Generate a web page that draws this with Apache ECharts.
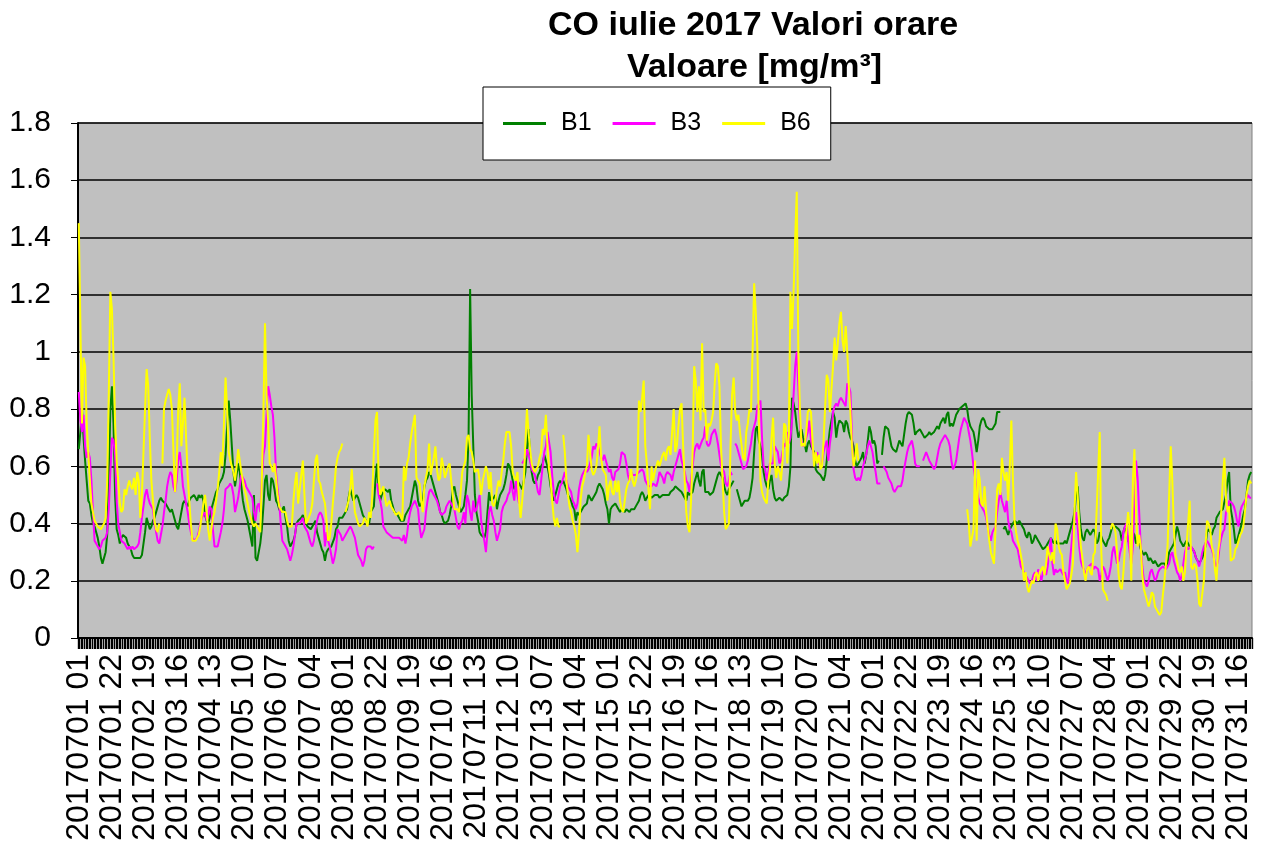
<!DOCTYPE html>
<html>
<head>
<meta charset="utf-8">
<title>CO iulie 2017 Valori orare</title>
<script src="https://cdn.jsdelivr.net/npm/echarts@6/dist/echarts.min.js"></script>
<style>
  html, body { margin: 0; padding: 0; background: #fff; }
  #chart { width: 1266px; height: 845px; }
</style>
</head>
<body>
<div id="chart"></div>
<script>
// hourly CO values, July 2017, one line per day (hours 01..24)
const days = ['01','02','03','04','05','06','07','08','09','10','11','12','13','14','15','16',
  '17','18','19','20','21','22','23','24','25','26','27','28','29','30','31'];
const hours = ['01','02','03','04','05','06','07','08','09','10','11','12',
  '13','14','15','16','17','18','19','20','21','22','23','24'];

const b1 = [
.66,.72,.80,.70,.62,.55,.48,.47,.43,.40,.39,.37,.35,.32,.28,.26,.28,.30,.36,.55,.80,.88,.75,.50,
.38,.36,.33,.35,.36,.36,.35,.33,.32,.31,.29,.28,.28,.28,.28,.28,.29,.33,.37,.42,.40,.38,.39,.41,
.42,.44,.46,.48,.49,.48,.48,.47,.46,.45,.44,.45,.43,.41,.39,.38,.38,.44,.47,.48,.47,.46,.48,.49,
.49,.50,.49,.48,.50,.49,.50,.48,.43,.41,.40,.42,.45,.47,.49,.51,.52,.54,.55,.56,.58,.64,.74,.83,
.76,.67,.58,.53,.57,.61,.58,.53,.48,.45,.43,.41,.38,.35,.32,.50,.28,.27,.27,.33,.38,.46,.55,.57,
.50,.48,.56,.55,.52,.48,.47,.45,.44,.45,.46,.42,.39,.34,.32,.33,.34,.36,.40,.41,.41,.42,.43,.41,
.40,.39,.39,.38,.39,.40,.41,.37,.35,.33,.31,.30,.27,.30,.31,.31,.32,.32,.35,.38,.39,.42,.42,.42,
.43,.44,.45,.49,.52,.50,.48,.49,.50,.49,.47,.45,.43,.42,.41,.41,.40,.44,.45,.46,.55,.61,.52,.48,
.50,.51,.52,.52,.51,.52,.48,.46,.44,.44,.43,.42,.41,.41,.41,.43,.44,.45,.46,.49,.52,.55,.53,.48,
.46,.47,.48,.53,.55,.56,.58,.57,.55,.53,.51,.49,.47,.44,.43,.41,.40,.40,.41,.43,.46,.52,.53,.50,
.48,.46,.44,.45,.46,.50,.55,.70,1.22,.85,.67,.50,.44,.41,.37,.36,.36,.35,.37,.44,.51,.48,.48,.49,
.50,.45,.48,.50,.51,.52,.54,.57,.61,.60,.58,.55,.52,.53,.55,.54,.53,.52,.55,.58,.66,.73,.64,.58,
.55,.54,.55,.57,.58,.60,.61,.64,.62,.60,.57,.53,.50,.48,.50,.52,.54,.55,.54,.55,.55,.52,.50,.49,
.48,.46,.45,.41,.44,.43,.44,.45,.46,.46,.47,.50,.49,.48,.49,.50,.51,.53,.54,.54,.52,.50,.47,.45,
.40,.45,.46,.46,.47,.47,.45,.44,.45,.45,.44,.45,.45,.44,.45,.45,.45,.46,.46,.48,.50,.51,.50,.48,
.49,.50,.50,.49,.49,.50,.50,.50,.49,.49,.50,.50,.50,.50,.50,.51,.51,.52,.53,.53,.52,.52,.51,.50,
.50,.48,.51,.50,.50,.51,.54,.56,.58,.55,.53,.58,.59,.51,.51,.51,.50,.50,.51,.53,.55,.57,.58,.58,
.56,.53,.51,.50,.52,.53,.54,.55,null,.52,.50,.48,.46,.47,.48,.48,.48,.49,.52,.56,.65,.73,.74,.69,
.67,.64,.58,.55,.53,.52,.55,.57,.52,.49,.48,.48,.49,.49,.48,.49,.49,.50,.53,.60,.84,.82,.79,.74,
.70,.72,.73,.70,.68,.65,.68,.69,.67,.66,.65,.59,.58,.58,.57,.56,.55,.57,.62,.68,.73,.76,.79,.77,
.70,.74,.76,.76,.75,.72,.76,.75,.72,.70,.69,.67,.62,.60,.61,.62,.63,.65,.61,.64,.69,.74,.72,.68,
.69,.67,.61,.62,null,.64,.70,.74,.74,.73,.70,.67,.66,.66,.65,.67,.69,.68,.67,.71,.75,.78,.79,.79,
.78,.75,.71,.72,.72,.73,.72,.71,.70,.70,.71,.72,.71,.71,.72,.73,.74,.73,.75,.76,.77,.75,.78,.79,
.74,.75,.74,.76,.78,.79,.80,.80,.81,.81,.82,.80,.76,.74,.73,.72,.69,.65,.69,.74,.76,.77,.76,.74,
.74,.73,.73,.73,.73,.75,.79,.79,.79,null,.38,.39,.39,.36,.38,.39,.40,.41,.41,.40,.41,.40,.39,.38,
.36,.35,.37,.36,.33,.34,.36,.36,.34,.33,.32,.31,.31,.32,.33,.34,.35,.34,.33,.34,.33,.33,.33,.33,
.33,.34,.33,.35,.37,.39,.41,.44,.50,.53,.44,.38,.35,.34,.37,.38,.38,.36,.36,.38,.37,.33,.34,.37,
.37,.34,.33,.32,.34,.35,.37,.39,.39,.39,.39,.38,.37,.34,.37,.39,.37,.34,.33,.35,.37,.36,.33,.34,
.33,.31,.30,.29,.30,.29,.27,.28,.27,.26,.27,.26,.25,.25,.26,.26,.26,.25,.26,.30,.31,.32,.33,.36,
.39,.37,.34,.33,.32,.33,.34,.33,.32,.32,.31,.30,.28,.27,.26,.27,.28,.30,.32,.37,.38,.37,.36,.38,
.39,.42,.43,.44,.44,.45,.45,.50,.55,.58,.45,.42,.38,.33,.34,.36,.38,.40,.43,.45,.50,.55,.57,.58
];

const b3 = [
.86,.76,.72,.78,.67,.63,.65,.63,.55,.44,.34,.33,.33,.31,.32,.34,.34,.35,.37,.45,.58,.70,.69,.64,
.48,.40,.37,.34,.34,.33,.32,.31,.32,.31,.32,.31,.31,.32,.33,.37,.42,.46,.50,.52,.49,.47,.46,.45,
.40,.37,.34,.33,.36,.39,.44,.48,.53,.56,.58,.57,.53,.51,.55,.62,.65,.60,.53,.50,.47,.44,.40,.37,
.35,.34,.34,.35,.37,.40,.42,.43,.44,.41,.43,.46,.45,.38,.32,.32,.32,.32,.37,.40,.45,.52,.52,.53,
.54,.53,.50,.44,.44,.49,.53,.57,.56,.55,.53,.52,.51,.50,.49,.44,.41,.46,.47,.44,.55,.64,.67,.78,
.88,.85,.81,.78,.70,.58,.52,.47,.40,.34,.33,.33,.31,.29,.27,.29,.32,.36,.40,.40,.40,.41,.42,.39,
.38,.37,.35,.33,.32,.34,.38,.41,.43,.44,.43,.41,.32,.37,.34,.32,.29,.26,.28,.31,.38,.37,.36,.34,
.35,.36,.36,.38,.39,.38,.38,.35,.32,.29,.29,.27,.25,.27,.31,.32,.32,.32,.31,.32,null,.54,.50,.48,
.45,.39,.38,.37,.37,.36,.36,.35,.35,.35,.35,.35,.35,.34,.36,.33,.36,.41,.44,.46,.47,.48,.48,.45,
.39,.35,.35,.38,.44,.48,.51,.52,.51,.50,.49,.48,.46,.44,.43,.43,.44,.46,.47,.48,.48,.46,.45,.42,
.39,.38,.40,.41,.44,.40,.50,.48,.44,.41,.48,.44,.45,.45,.50,.41,.37,.34,.30,.37,.44,.46,.43,.41,
.37,.34,.36,.38,.44,.46,.47,.48,.50,.51,.55,.51,.48,.55,.50,.47,null,.61,.61,.63,.66,.66,.62,.59,
.58,.57,.54,.51,.50,.55,.60,.65,.67,.72,.72,.65,.57,.51,.48,.47,.50,.53,.54,.56,.58,.55,.53,.52,
.51,.48,.47,.45,.47,.52,.55,.57,.58,.59,.58,.59,.61,.63,.67,.66,.68,.67,.65,.63,.62,.64,.64,.60,
.58,.59,.56,.55,.58,.58,.59,.61,.65,.65,.64,.61,.57,.55,.58,.57,.57,.57,.57,.58,.58,.59,.58,.55,
.54,.53,.53,.53,.54,.54,.53,.55,.58,.58,.56,.54,.57,.58,.58,.57,.55,.58,.60,.62,.64,.66,.62,.60,
.58,.55,.54,.51,.55,.60,.65,.67,.68,.66,.66,.69,.70,.74,.68,.67,.68,.71,.72,.73,.71,.68,.64,.60,
.60,.58,.54,.53,.55,.58,.57,null,.68,.67,.65,.63,.61,.59,.59,.60,.62,.65,.68,.72,.74,.76,.81,.82,
.83,.70,.60,.59,.55,.58,.61,.61,.61,.67,.66,.65,.61,.62,.65,.68,.67,.72,.68,.70,.76,.85,.95,1.00,
.88,.75,.69,.67,.68,.70,.72,.76,.69,.66,.64,.62,.65,.61,.60,.61,.65,.67,.69,.62,.68,.72,.79,.81,
.82,.81,.83,.84,.83,.82,.81,.89,.88,.86,.70,.59,.56,.55,.56,.55,.57,.60,.62,.64,.67,.69,.67,.65,
.61,.58,.54,.54,.54,null,.60,.60,.58,.56,.55,.54,.52,.51,.51,.53,.53,.53,.55,.59,.62,.65,.67,.68,
.69,.66,.61,.60,.60,.60,null,.62,.62,.65,.65,.62,.61,.60,.59,.60,.63,.66,.68,.69,.69,.71,.71,.69,
.67,.62,.59,.60,.62,.66,.70,.73,.75,.77,.77,.75,.72,.69,.65,.60,.56,.52,.49,.47,.46,.45,.44,.42,
.39,.36,.34,.37,.38,.39,.44,.48,.51,.48,.46,.44,.48,.41,.38,.37,.34,.33,.32,.31,.28,.25,.24,.23,
.23,.21,.20,.19,.20,.22,.23,.20,.24,.22,.20,.23,.24,.22,.25,.30,.35,.26,.22,.24,.23,.23,.24,.23,
.22,.23,.20,.19,.26,.32,.38,.41,.44,.39,.32,.27,.25,.24,.22,.24,.25,.25,.26,.24,.25,.25,.24,.20,
.22,.25,.24,.22,.20,.22,.25,.30,.32,.29,.26,.27,.30,.32,.37,.39,.40,.34,.30,.26,.32,.48,.62,.56,
.44,.32,.25,.20,.19,.18,.20,.23,.24,.22,.20,.21,.23,.24,.24,.25,.25,.24,.24,.26,.29,.30,.27,.25,
.23,.22,.20,.22,.26,.30,.32,.31,.31,.32,.31,.30,.28,.27,.25,.27,.30,.32,.33,.34,.33,.32,.31,.29,
.26,.25,.27,.32,.35,.37,.38,.44,.45,.48,.48,.47,.46,.44,.41,.39,.44,.46,.47,.48,.49,.50,.49,.49
];

const b6 = [
1.45,1.10,.75,.98,.95,.75,.65,.55,.47,.44,.41,.40,.39,.39,.38,.39,.40,.42,.55,.85,1.21,1.15,.98,.75,
.62,.55,.47,.44,.45,.52,.50,.53,.55,.53,.52,.56,.50,.58,.55,.42,.50,.65,.80,.94,.88,.70,.55,.48,
.41,.38,.37,.40,null,.61,.80,.83,.85,.87,.85,.80,.65,.51,.60,.80,.89,.67,.75,.84,.70,.57,.48,.40,
.34,.34,.34,.34,.36,.39,.43,.47,.50,.44,.38,.34,.38,.42,.44,.48,.52,.58,.65,.60,.75,.91,.80,.65,
.62,.60,.58,.55,.60,.66,.62,.58,.55,.52,.50,.47,.44,.42,.40,.39,.40,.40,.38,.37,.55,.79,1.10,.85,
.75,.61,.60,.58,.61,.56,.50,.46,.45,.44,.44,.44,.41,.39,.39,.39,.48,.54,.58,.47,.52,.57,.62,.50,
.40,.41,.41,.44,.47,.55,.62,.64,.55,.54,.51,.49,.47,.41,.34,.35,.40,.47,.53,.60,.63,.65,.66,.68,
null,.44,.46,.48,.52,.59,.50,.44,.42,.40,.39,.39,.40,.42,.41,.39,.44,.42,.50,.65,.76,.79,.56,.50,
.50,.53,.49,.46,.47,.48,.46,.45,.44,.43,.43,.44,.44,.41,.60,.55,.61,.63,.68,.72,.75,.78,.56,.55,
.54,.48,.44,.53,.56,.59,.68,.57,.57,.63,.67,.59,.55,.56,.63,.60,.56,.58,.60,.61,.55,.50,.45,.45,
.45,.44,.44,.58,.60,.62,.70,.71,.66,.65,.62,.58,.58,.59,.55,.50,.55,.55,.60,.58,.52,.58,.47,.46,
.48,.52,.55,.53,.58,.62,.68,.72,.72,.72,.67,.58,.56,.55,.58,.48,.42,.48,.55,.68,.80,.72,.66,.61,
.59,.58,.59,.60,.63,.65,.73,.71,.78,.67,.59,.55,.48,.42,.39,.42,.39,.39,null,.71,.65,.55,.50,.46,
.44,.41,.39,.36,.30,.37,.48,.53,.55,.58,.60,.71,.65,.59,.57,.58,.60,.66,.74,.63,.59,.58,.57,.48,
.53,.55,.51,.50,.55,.51,.55,.48,.45,.44,.48,.52,.54,.55,.59,.55,.53,.55,.58,.83,.79,.84,.90,.67,
.61,.52,.45,.60,.55,.58,.60,.62,.60,.62,.64,.65,.62,.66,.67,.64,.64,.80,.65,.67,.74,.80,.82,.67,
.55,.44,.39,.37,.48,.65,.95,.90,.79,.88,.76,1.03,.79,.80,.69,.75,.74,.76,.79,.89,.96,.95,.88,.67,
.55,.44,.38,.39,.40,.67,.85,.91,.79,.76,.78,.72,.72,.63,.62,.72,.75,.80,.79,1.00,1.24,1.14,1.02,.75,
.55,.51,.49,.48,.47,.55,.59,.70,.77,.61,.56,.60,.58,.55,.62,.75,.74,.61,.72,1.21,1.08,1.21,1.40,1.56,
1.00,.80,.67,.68,.67,.72,.79,.80,.79,.69,.60,.65,.61,.64,.59,.60,.69,.81,.92,.90,.79,.79,.95,1.05,
.97,1.03,1.10,1.14,1.04,1.00,1.09,1.00,.88,.79,.67,.60,.63,.68,.62,null,null,null,null,null,null,null,null,null,
null,null,null,null,null,null,null,null,null,null,null,null,null,null,null,null,null,null,null,null,null,null,null,null,
null,null,null,null,null,null,null,null,null,null,null,null,null,null,null,null,null,null,null,null,null,null,null,null,
null,null,null,null,null,null,null,null,null,null,null,.45,.40,.32,.32,.38,.62,.34,.59,.55,.47,.46,.53,.44,
.39,.34,.30,.28,.26,.39,.52,.54,.50,.63,.58,.55,.58,.48,.60,.76,.55,.41,.37,.34,.32,.29,.26,.20,
.23,.18,.16,.18,.20,.19,.22,.23,.20,.23,.24,.25,.22,.26,.32,.29,.27,.30,.26,.40,.38,.32,.30,.29,
.23,.20,.17,.17,.19,.22,.26,.44,.58,.50,.40,.32,.28,.23,.20,.24,.25,.23,.22,.29,.30,.44,.58,.72,
.30,.17,.16,.15,.13,null,.38,.40,.39,.37,.30,.22,.18,.17,.23,.32,.38,.44,.38,.20,.55,.66,.44,.32,
.36,.32,.22,.17,.17,.13,.11,.13,.16,.15,.11,.10,.09,.08,.09,.15,.20,.20,.32,.50,.67,.55,.38,.29,
.27,.24,.23,.25,.20,.23,.32,.40,.48,.25,.24,.26,.25,.20,.12,.11,.11,.20,.32,.41,.40,.38,.32,.30,
.24,.20,.30,.34,.44,.55,.63,.49,.44,.46,.27,.27,.28,.31,.32,.34,.36,.37,.39,.44,.50,.53,.55,.54
];

const categories = [];
days.forEach(function (d) {
  hours.forEach(function (h) { categories.push('201707' + d + ' ' + h); });
});

const FONT = 'Liberation Sans, Arial, sans-serif';

let myChart = echarts.init(document.getElementById('chart'));
let option = {
  animation: false,
  backgroundColor: '#ffffff',
  graphic: [
    { type: 'text', left: 548, top: 9,
      style: { text: 'CO iulie 2017 Valori orare', font: 'bold 34px ' + FONT, fill: '#000' } },
    { type: 'text', left: 627, top: 51,
      style: { text: 'Valoare [mg/m³]', font: 'bold 34px ' + FONT, fill: '#000' } }
  ],
  legend: {
    left: 483,
    top: 87,
    padding: [24, 20, 24, 20],
    backgroundColor: '#ffffff',
    borderColor: '#000000',
    borderWidth: 1,
    itemWidth: 43,
    itemHeight: 3,
    itemGap: 21,
    icon: 'rect',
    textStyle: { fontFamily: FONT, fontSize: 25, color: '#000', padding: [0, 0, 0, 10] },
    data: ['B1', 'B3', 'B6']
  },
  grid: {
    left: 78,
    right: 14,
    top: 123,
    bottom: 207,
    show: true,
    backgroundColor: '#c0c0c0',
    borderColor: '#808080',
    borderWidth: 1,
    containLabel: false
  },
  xAxis: {
    type: 'category',
    data: categories,
    boundaryGap: true,
    axisLine: { lineStyle: { color: '#000', width: 2 } },
    axisTick: { show: true, interval: 0, length: 11, lineStyle: { color: '#000', width: 1.4 } },
    axisLabel: {
      interval: 20,
      rotate: 90,
      margin: 16,
      color: '#000',
      fontFamily: FONT,
      fontSize: 32,
      padding: [12, 0, 0, 0]
    },
    splitLine: { show: false }
  },
  yAxis: {
    type: 'value',
    min: 0,
    max: 1.8,
    interval: 0.2,
    axisLine: { show: true, lineStyle: { color: '#000', width: 2 } },
    axisTick: { show: true, length: 7, lineStyle: { color: '#000' } },
    axisLabel: { margin: 27, color: '#000', fontFamily: FONT, fontSize: 30 },
    splitLine: { lineStyle: { color: '#000', width: 1.5 } }
  },
  series: [
    { name: 'B1', type: 'line', data: b1, symbol: 'none', connectNulls: false,
      color: '#008000', lineStyle: { color: '#008000', width: 2 } },
    { name: 'B3', type: 'line', data: b3, symbol: 'none', connectNulls: false,
      color: '#ff00ff', lineStyle: { color: '#ff00ff', width: 2 } },
    { name: 'B6', type: 'line', data: b6, symbol: 'none', connectNulls: false,
      color: '#ffff00', lineStyle: { color: '#ffff00', width: 2 } }
  ]
};
myChart.setOption(option);
</script>
</body>
</html>
